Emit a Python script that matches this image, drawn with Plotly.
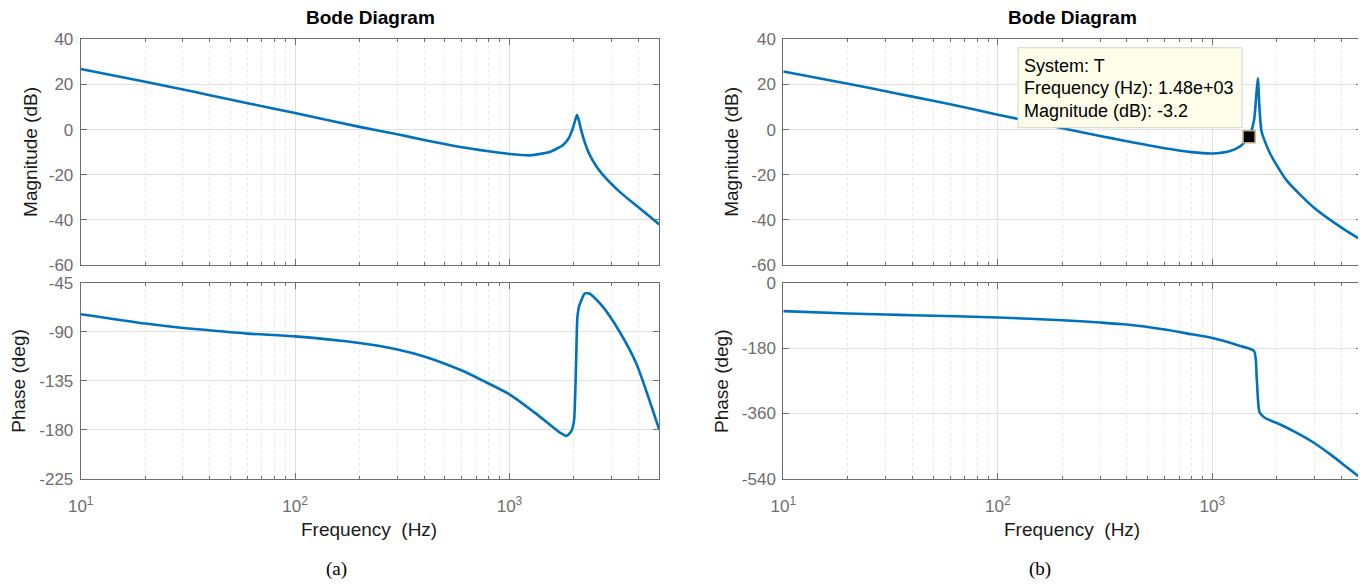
import plotly.graph_objects as go

# ---------------- data ----------------
# (a) magnitude
freq_a_mag = [10, 20, 30, 40, 60, 100, 200, 300, 400, 600, 800, 1000, 1250, 1550,
              1780, 1880, 1950, 2010, 2066, 2113, 2145, 2203, 2283, 2367, 2520,
              2690, 3270, 4050, 5000]
mag_a = [26.8, 21.2, 17.8, 15.2, 11.7, 7.3, 1.2, -2.1, -4.6, -7.8, -9.6, -10.8, -11.4, -9.8,
         -6.8, -4.2, -0.9, 3.0, 6.5, 3.6, 1.0, -3.1, -7.6, -11.2, -15.7,
         -19.4, -27.6, -34.9, -42.0]
# (a) phase
freq_a_ph = [10, 20, 30, 40, 60, 100, 200, 300, 400, 600, 750, 1000, 1340, 1720,
             1845, 1946, 2000, 2045, 2075, 2120, 2250, 2380, 2730, 3270, 3910, 5000]
phase_a = [-73.9, -82.5, -86.6, -88.7, -91.8, -94.3, -100.4, -106.3, -112.7, -125.7,
           -134.9, -147.5, -165.7, -182.7, -185.7, -181.1, -171.9, -119.5, -76.4,
           -65.6, -54.8, -55.4, -67.2, -90.3, -119.5, -180.2]
# (b) magnitude
freq_b_mag = [10, 20, 30, 40, 60, 100, 200, 300, 400, 600, 800, 1000, 1210, 1350,
              1483, 1564, 1596, 1629, 1660, 1698, 1860, 2220, 2960, 4080, 5000]
mag_b = [25.7, 20.3, 17.0, 14.6, 11.2, 6.6, 0.6, -2.8, -5.2, -8.3, -10.0, -10.6, -9.5,
         -7.4, -3.2, 4.1, 13.0, 22.7, 8.6, -1.1, -10.7, -22.5, -34.4, -44.0, -49.2]
# (b) phase
freq_b_ph = [10, 20, 30, 40, 100, 200, 300, 400, 600, 800, 1000, 1347, 1564, 1612,
             1660, 1761, 2049, 2450, 2958, 3536, 4260, 5000]
phase_b = [-78.4, -84.8, -87.6, -89.5, -95.9, -103.3, -109.7, -115.3, -129.1, -142.1,
           -152.5, -174.3, -188.2, -269.4, -357.1, -372.8, -389.4, -412.5, -440.2,
           -472.4, -509.5, -541.6]

# data tip in (b)
tip_freq = [1483]
tip_mag = [-3.2]
tip_lines = ["System: T", "Frequency (Hz): 1.48e+03", "Magnitude (dB): -3.2"]

# axes ticks
x_major = [10, 100, 1000]
x_major_text = ["10<sup>1</sup>", "10<sup>2</sup>", "10<sup>3</sup>"]
x_minor = [20, 30, 40, 50, 60, 70, 80, 90, 200, 300, 400, 500, 600, 700, 800, 900,
           2000, 3000, 4000]
mag_ticks = [-60, -40, -20, 0, 20, 40]
phase_a_ticks = [-225, -180, -135, -90, -45]
phase_b_ticks = [-540, -360, -180, 0]

# ---------------- figure ----------------
OFF = 8  # page body margin
W, H = 1366 - OFF, 586 - OFF
BLUE = "#0072BD"
FRAME = "#6e6e6e"
TICKC = "#6e6e6e"
GRID = "#e0e0e0"
MINORGRID = "#e8e8e8"
FONT = "Liberation Sans, Arial, Helvetica, sans-serif"


def px_x(x):
    return (x - OFF) / W


def px_y(y):
    return 1 - (y - OFF) / H


xl = [px_x(80.7), px_x(659.3)]
xr = [px_x(783.3), px_x(1362.3)]
ymag = [px_y(265.0), px_y(39.3)]
yph = [px_y(478.7), px_y(282.7)]

fig = go.Figure()

LINE = dict(color=BLUE, width=2.6, shape="spline", smoothing=0.6)
fig.add_trace(go.Scatter(x=freq_a_mag, y=mag_a, mode="lines", line=LINE,
                         xaxis="x", yaxis="y", hoverinfo="skip", showlegend=False))
fig.add_trace(go.Scatter(x=freq_a_ph, y=phase_a, mode="lines", line=LINE,
                         xaxis="x2", yaxis="y2", hoverinfo="skip", showlegend=False))
fig.add_trace(go.Scatter(x=freq_b_mag, y=mag_b, mode="lines", line=LINE,
                         xaxis="x3", yaxis="y3", hoverinfo="skip", showlegend=False))
fig.add_trace(go.Scatter(x=freq_b_ph, y=phase_b, mode="lines", line=LINE,
                         xaxis="x4", yaxis="y4", hoverinfo="skip", showlegend=False))
fig.add_trace(go.Scatter(x=tip_freq, y=tip_mag, mode="markers",
                         marker=dict(symbol="square", size=12, color="black",
                                     line=dict(color="#b8aa80", width=1.5)),
                         xaxis="x3", yaxis="y3", hoverinfo="skip", showlegend=False,
                         cliponaxis=False))


def xaxis(domain, anchor, labels):
    return dict(
        type="log", domain=domain, anchor=anchor, range=[1, 3.69897],
        tickmode="array", tickvals=x_major,
        ticktext=x_major_text,
        showticklabels=labels,
        ticks="inside", ticklen=6, tickcolor=FRAME, tickwidth=1,
        showline=True, linecolor=FRAME, linewidth=1, mirror="allticks",
        showgrid=True, gridcolor=GRID, gridwidth=1.3,
        minor=dict(tickmode="array", tickvals=x_minor, ticks="inside", ticklen=3,
                   tickcolor=FRAME, showgrid=True, gridcolor=MINORGRID,
                   griddash="dot", gridwidth=1),
        tickfont=dict(family=FONT, size=17, color=TICKC),
        ticklabelstandoff=12,
        zeroline=False, fixedrange=True, automargin=False,
    )


def yaxis(domain, anchor, rng, ticks):
    return dict(
        domain=domain, anchor=anchor, range=rng,
        tickmode="array", tickvals=ticks, ticktext=[str(t) for t in ticks],
        ticks="inside", ticklen=6, tickcolor=FRAME, tickwidth=1,
        showline=True, linecolor=FRAME, linewidth=1, mirror="allticks",
        showgrid=True, gridcolor=GRID, gridwidth=1.3,
        tickfont=dict(family=FONT, size=17, color=TICKC),
        ticklabelstandoff=3,
        zeroline=False, fixedrange=True, automargin=False,
    )


fig.update_layout(
    width=W, height=H,
    margin=dict(l=0, r=0, t=0, b=0, autoexpand=False),
    paper_bgcolor="white", plot_bgcolor="white",
    font=dict(family=FONT, color="#1a1a1a"),
    xaxis=xaxis(xl, "y", False),
    yaxis=yaxis(ymag, "x", [-60, 40], mag_ticks),
    xaxis2=xaxis(xl, "y2", True),
    yaxis2=yaxis(yph, "x2", [-225, -45], phase_a_ticks),
    xaxis3=xaxis(xr, "y3", False),
    yaxis3=yaxis(ymag, "x3", [-60, 40], mag_ticks),
    xaxis4=xaxis(xr, "y4", True),
    yaxis4=yaxis(yph, "x4", [-540, 0], phase_b_ticks),
)

ann = []
# titles
for cx in (370.0, 1072.8):
    ann.append(dict(text="<b>Bode Diagram</b>", x=px_x(cx), y=px_y(17.5), xref="paper", yref="paper",
                    showarrow=False, xanchor="center", yanchor="middle",
                    font=dict(family=FONT, size=19, color="black")))
    ann.append(dict(text="Frequency  (Hz)", x=px_x(cx - 1), y=px_y(529.3), xref="paper", yref="paper",
                    showarrow=False, xanchor="center", yanchor="middle",
                    font=dict(family=FONT, size=19, color="#1a1a1a")))
# y axis titles
for (cx, cy, t) in [(29.7, 152.2, "Magnitude (dB)"), (19.0, 380.7, "Phase (deg)"),
                    (731.6, 152.2, "Magnitude (dB)"), (721.3, 380.7, "Phase (deg)")]:
    ann.append(dict(text=t, x=px_x(cx), y=px_y(cy), xref="paper", yref="paper",
                    showarrow=False, xanchor="center", yanchor="middle", textangle=-90,
                    font=dict(family=FONT, size=19, color="#1a1a1a")))
# captions
for (cx, t) in [(336.7, "(a)"), (1039.7, "(b)")]:
    ann.append(dict(text=t, x=px_x(cx), y=px_y(569.3), xref="paper", yref="paper",
                    showarrow=False, xanchor="center", yanchor="middle",
                    font=dict(family="Liberation Serif, Times New Roman, serif", size=19, color="black")))
# data tip text
for i, t in enumerate(tip_lines):
    ann.append(dict(text=t, x=px_x(1022.3), y=px_y(65.8 + 22.5 * i), xref="paper", yref="paper",
                    showarrow=False, xanchor="left", yanchor="middle",
                    font=dict(family=FONT, size=18, color="black")))

fig.update_layout(annotations=ann)

fig.add_shape(type="rect", xref="paper", yref="paper",
              x0=px_x(1018), x1=px_x(1242), y0=px_y(127.7), y1=px_y(47.7),
              fillcolor="#fdfde9", line=dict(color="#d6d6c4", width=1), layer="above")

fig.write_html("out.html")
